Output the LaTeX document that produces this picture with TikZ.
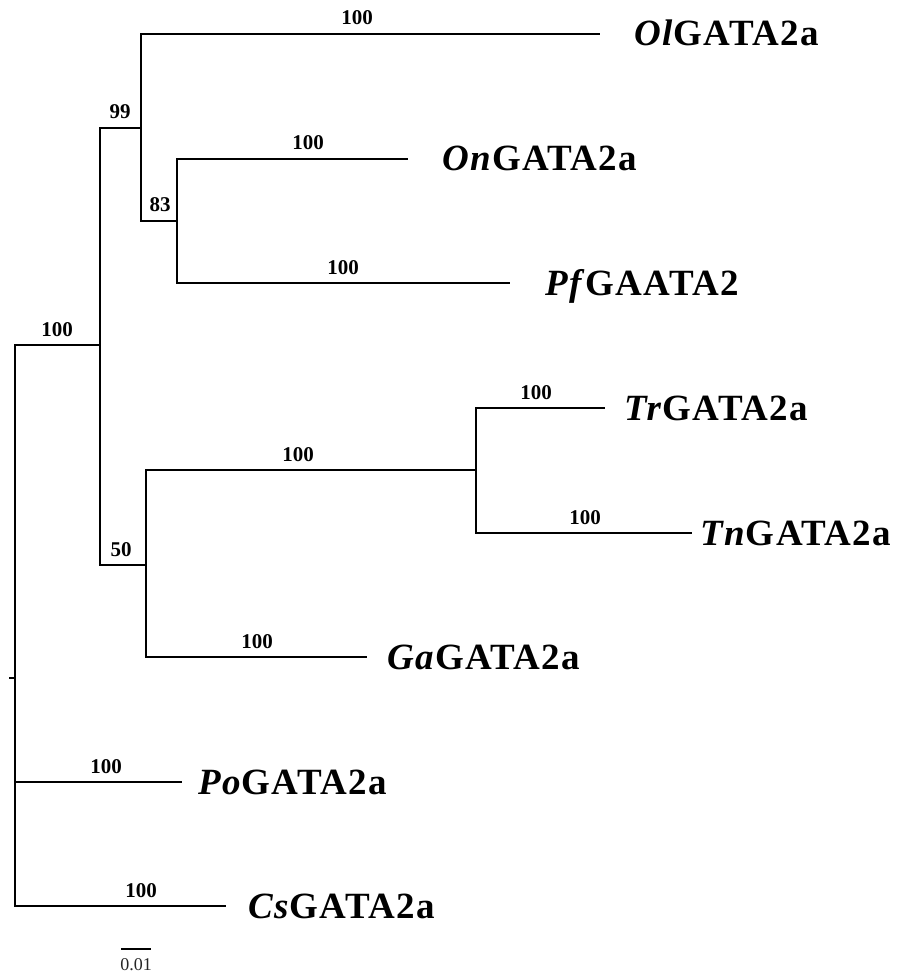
\documentclass[tikz,border=0pt]{standalone}
\usepackage{fontspec}
\setmainfont{Liberation Serif}
\newfontfamily\taxonfont{Liberation Serif}[LetterSpace=3.5]
\begin{document}
\begin{tikzpicture}[x=1pt, y=-1pt,
    branch/.style={line width=1.6pt, black},
    boot/.style={font=\fontsize{21}{24}\selectfont\bfseries, inner sep=0pt, anchor=base},
    taxon/.style={font=\taxonfont\fontsize{37}{40}\selectfont\bfseries, inner sep=0pt, anchor=base west},
    scalebar/.style={line width=1.2pt, black}
]
    \useasboundingbox (0,0) rectangle (903,976);

    % Internal nodes
    \coordinate (stub) at (9,678);
    \coordinate (root) at (15,678);
    \coordinate (nA) at (100,345);
    \coordinate (nB) at (141,128);
    \coordinate (nC) at (177,221);
    \coordinate (nD) at (146,565);
    \coordinate (nE) at (476,470);

    % Branch tips
    \coordinate (olend) at (600,34);
    \coordinate (onend) at (408,159);
    \coordinate (pfend) at (510,283);
    \coordinate (trend) at (605,408);
    \coordinate (tnend) at (692,533);
    \coordinate (gaend) at (367,657);
    \coordinate (poend) at (182,782);
    \coordinate (csend) at (226,906);

    % Branches
    \draw[branch] (stub) -- (root);
    \draw[branch] (root) |- (nA);
    \draw[branch] (root) |- (poend);
    \draw[branch] (root) |- (csend);
    \draw[branch] (nA) |- (nB);
    \draw[branch] (nA) |- (nD);
    \draw[branch] (nB) |- (olend);
    \draw[branch] (nB) |- (nC);
    \draw[branch] (nC) |- (onend);
    \draw[branch] (nC) |- (pfend);
    \draw[branch] (nD) |- (nE);
    \draw[branch] (nD) |- (gaend);
    \draw[branch] (nE) |- (trend);
    \draw[branch] (nE) |- (tnend);

    % Bootstrap values
    \node[boot] (bA) at (57,336) {100};
    \node[boot] (bB) at (120,119) {99};
    \node[boot] (bOl) at (357,25) {100};
    \node[boot] (bC) at (160,212) {83};
    \node[boot] (bOn) at (308,150) {100};
    \node[boot] (bPf) at (343,274) {100};
    \node[boot] (bE) at (298,461) {100};
    \node[boot] (bTr) at (536,399) {100};
    \node[boot] (bTn) at (585,524) {100};
    \node[boot] (bD) at (121,556) {50};
    \node[boot] (bGa) at (257,648) {100};
    \node[boot] (bPo) at (106,773) {100};
    \node[boot] (bCs) at (141,897) {100};

    % Taxa
    \node[taxon] (ol) at (634,46) {\textit{Ol}GATA2a};
    \node[taxon] (on) at (442,171) {\textit{On}GATA2a};
    \node[taxon] (pf) at (545,295) {\textit{Pf}GAATA2};
    \node[taxon] (tr) at (624,420) {\textit{Tr}GATA2a};
    \node[taxon] (tn) at (700,545) {\textit{Tn}GATA2a};
    \node[taxon] (ga) at (387,669) {\textit{Ga}GATA2a};
    \node[taxon] (po) at (198,794) {\textit{Po}GATA2a};
    \node[taxon] (cs) at (248,918) {\textit{Cs}GATA2a};

    % Scale bar
    \coordinate (sa) at (121,949);
    \coordinate (sb) at (151,949);
    \draw[scalebar] (sa) -- (sb);
    \node[font=\fontsize{18}{20}\selectfont, inner sep=0pt, anchor=base, black!85] (scale) at (136,970) {0.01};
\end{tikzpicture}
\end{document}
